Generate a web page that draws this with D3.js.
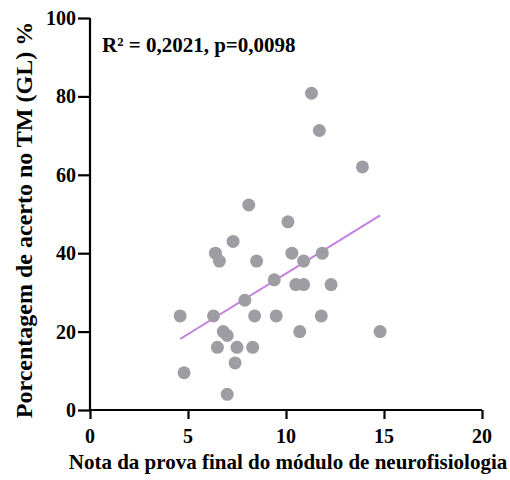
<!DOCTYPE html>
<html><head><meta charset="utf-8">
<script src="https://cdn.jsdelivr.net/npm/d3@7"></script>
<style>body{margin:0;background:#fff}</style>
</head><body><svg id="c" width="510" height="480"></svg>
<script>
const xs = [4.6,4.8,6.3,6.4,6.6,7.3,8.1,6.8,7.0,6.5,7.5,7.4,7.0,8.3,7.9,8.4,8.5,9.4,9.5,10.1,10.3,10.9,10.5,10.9,10.7,11.85,12.3,11.8,14.8,11.3,11.7,13.9];
const ys = [24,9.5,24,40,38,43,52.3,20,19,16,16,12,4,16,28,24,38,33.2,24,48,40,38,32,32,20,40,32,24,20,80.8,71.3,62];
const fitSlope = 3.09, fitIntercept = 3.9;
const xTicks = [0,5,10,15,20];
const yTicks = [0,20,40,60,80,100];
const statText = "R\u00B2 = 0,2021, p=0,0098";
const xTitle = "Nota da prova final do m\u00F3dulo de neurofisiologia";
const yTitle = "Porcentagem de acerto no TM (GL) %";

function font(sel, size){
  sel.style("font-family","Liberation Serif").style("font-weight","bold").style("font-size",size+"px").attr("fill","#000");
}

const svg = d3.select("#c");
const x = d3.scaleLinear().domain([0,20]).range([90,482]);
const y = d3.scaleLinear().domain([0,100]).range([410,18]);

const gx = svg.append("g").attr("transform","translate(0,410)");
gx.call(d3.axisBottom(x).tickValues(xTicks).tickSize(9).tickFormat(""));
const gy = svg.append("g").attr("transform","translate(90,0)");
gy.call(d3.axisLeft(y).tickValues(yTicks).tickSize(12).tickFormat(""));
[gx,gy].forEach(g=>{
  g.selectAll("path,line").attr("stroke","#000").attr("stroke-width",2.2);
  g.selectAll("text").remove();
});
gy.select(".domain").attr("d","M0,"+y(100)+"V"+(y(0)+1));
gx.select(".domain").attr("d","M"+(x(0)-1)+",0H"+x(20));

const labels = svg.append("g");
font(labels.selectAll("text.xl").data(xTicks).join("text").attr("class","xl")
  .attr("x",d=>x(d)).attr("y",443).attr("text-anchor","middle").text(d=>d), 20);
font(labels.selectAll("text.yl").data(yTicks).join("text").attr("class","yl")
  .attr("x",76).attr("y",d=>y(d)+7).attr("text-anchor","end").text(d=>d), 20);

const xmin = d3.min(xs), xmax = d3.max(xs);
svg.append("line")
  .attr("x1",x(xmin)).attr("y1",y(fitIntercept+fitSlope*xmin))
  .attr("x2",x(xmax)).attr("y2",y(fitIntercept+fitSlope*xmax))
  .attr("stroke","#c47fe0").attr("stroke-width",2);

svg.append("g").selectAll("circle").data(xs.map((v,i)=>[v,ys[i]])).join("circle")
  .attr("cx",d=>x(d[0])).attr("cy",d=>y(d[1])).attr("r",6.5).attr("fill","#9e9da3");

font(svg.append("text").attr("x",102).attr("y",52).text(statText), 21);
font(svg.append("text").attr("x",288).attr("y",469).attr("text-anchor","middle").text(xTitle), 21);
font(svg.append("text").attr("transform","translate(32,220) rotate(-90)").attr("text-anchor","middle").text(yTitle), 24);
</script></body></html>
